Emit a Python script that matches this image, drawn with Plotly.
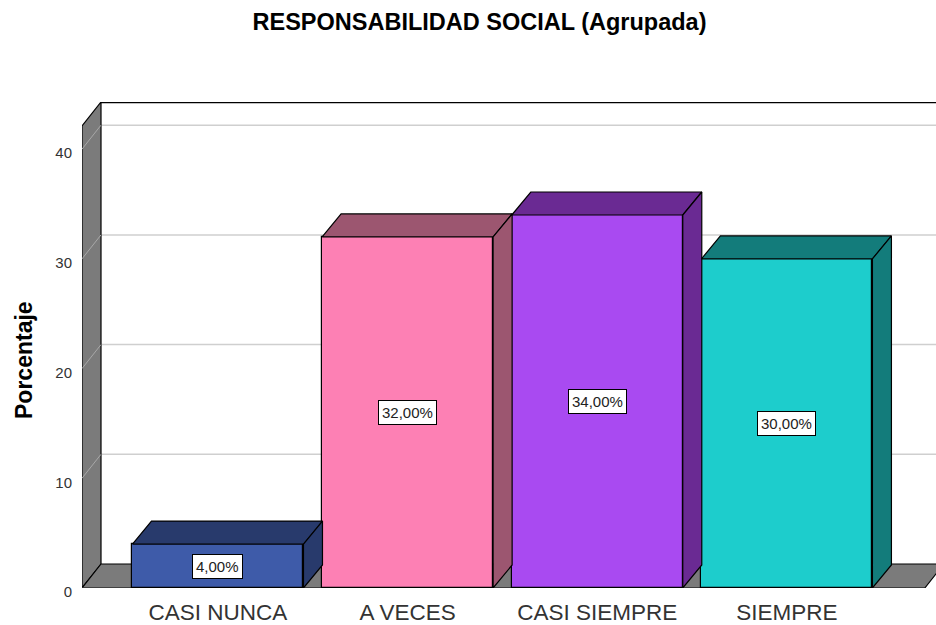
import plotly.graph_objects as go

# ---- data ----
categories = ["CASI NUNCA", "A VECES", "CASI SIEMPRE", "SIEMPRE"]
percentages = [4.0, 32.0, 34.0, 30.0]
y_ticks = [0, 10, 20, 30, 40]
title_text = "RESPONSABILIDAD SOCIAL (Agrupada)"
y_title = "Porcentaje"

# ---- style ----
front_colors = ["#3e5ba9", "#fd80b4", "#a94af1", "#1dcdcc"]
shade_colors = ["#283a6c", "#9c5670", "#6a2a93", "#137c7b"]
wall_color = "#7b7b7b"
grid_color = "#cfcfcf"
FONT = "Arial, Liberation Sans, sans-serif"

W, H = 936, 625
ML, MR, MT, MB = 82, 0, 102, 37
X_RANGE = [-0.717, 3.786]
Y_RANGE = [0, 44.3]
px_x = (W - ML - MR) / (X_RANGE[1] - X_RANGE[0])
px_y = (H - MT - MB) / (Y_RANGE[1] - Y_RANGE[0])
DX = 19 / px_x            # depth offset in x units
DY_WALL = 24 / px_y       # wall depth in y units
DY_BAR = 23 / px_y        # bar depth in y units
BAR_W = 171 / px_x
X0 = X_RANGE[0]
X_FLOOR_END = 3.727
TOP = Y_RANGE[1]

fig = go.Figure()

shapes = []
# gridlines on back wall
for v in y_ticks[1:]:
    shapes.append(dict(type="line", xref="x", yref="y", layer="below",
                       x0=X0 + DX, x1=X_RANGE[1] + 1, y0=v + DY_WALL, y1=v + DY_WALL,
                       line=dict(color=grid_color, width=1.5)))
# left wall
shapes.append(dict(type="path", xref="x", yref="y", layer="below",
                   path=f"M {X0},0 L {X0},{TOP - DY_WALL} L {X0 + DX},{TOP} L {X0 + DX},{DY_WALL} Z",
                   fillcolor=wall_color, line=dict(color="black", width=1.2)))
for v in y_ticks[1:]:
    shapes.append(dict(type="line", xref="x", yref="y", layer="below",
                       x0=X0, x1=X0 + DX, y0=v, y1=v + DY_WALL,
                       line=dict(color="#a8a8a8", width=1)))
# floor
shapes.append(dict(type="path", xref="x", yref="y", layer="below",
                   path=f"M {X0},0 L {X_FLOOR_END},0 L {X_FLOOR_END + DX},{DY_WALL} L {X0 + DX},{DY_WALL} Z",
                   fillcolor=wall_color, line=dict(color="black", width=1.2)))
shapes.append(dict(type="line", xref="x", yref="y", layer="below",
                   x0=X0, x1=0.1, y0=0, y1=0, line=dict(color="#444", width=1.2)))
# back wall top edge
shapes.append(dict(type="line", xref="x", yref="y", layer="below",
                   x0=X0 + DX, x1=X_RANGE[1] + 1, y0=TOP - 0.05, y1=TOP - 0.05,
                   line=dict(color="black", width=1.5)))

# bars (front faces)
fig.add_trace(go.Bar(
    x=list(range(len(categories))), y=percentages, width=BAR_W,
    marker=dict(color=front_colors, line=dict(color="black", width=1.2)),
    hoverinfo="skip", showlegend=False))

# 3D top and side faces, derived from the data values
for i, v in enumerate(percentages):
    xl, xr = i - BAR_W / 2, i + BAR_W / 2
    fig.add_trace(go.Scatter(
        x=[xl, xr, xr + DX, xl + DX, xl], y=[v, v, v + DY_BAR, v + DY_BAR, v],
        fill="toself", fillcolor=shade_colors[i], mode="lines",
        line=dict(color="black", width=1.2), hoverinfo="skip", showlegend=False))
    fig.add_trace(go.Scatter(
        x=[xr, xr + DX, xr + DX, xr, xr], y=[0, DY_BAR, v + DY_BAR, v, 0],
        fill="toself", fillcolor=shade_colors[i], mode="lines",
        line=dict(color="black", width=1.2), hoverinfo="skip", showlegend=False))

annotations = []
for i, v in enumerate(percentages):
    annotations.append(dict(
        x=i, y=v / 2, xref="x", yref="y", showarrow=False,
        text=f"{v:.2f}%".replace(".", ","),
        font=dict(family=FONT, size=15, color="#222"),
        bgcolor="white", bordercolor="black", borderwidth=1, borderpad=3))
annotations.append(dict(
    x=(24 - ML) / (W - ML - MR), y=(H - MB - 360) / (H - MT - MB),
    xref="paper", yref="paper", xanchor="center", yanchor="middle",
    showarrow=False, textangle=-90,
    text=y_title, font=dict(family=FONT, size=23, color="black", weight="bold")))

fig.update_layout(
    width=W, height=H, autosize=False,
    margin=dict(l=ML, r=MR, t=MT, b=MB),
    paper_bgcolor="white", plot_bgcolor="white",
    title=dict(text=title_text, x=479.5 / W, xref="container", xanchor="center",
               y=1 - 22 / H, yref="container", yanchor="middle",
               font=dict(family=FONT, size=23.5, color="black", weight="bold")),
    xaxis=dict(range=X_RANGE, tickvals=list(range(len(categories))), ticktext=categories,
               showgrid=False, zeroline=False, showline=False, ticks="",
               ticklabelstandoff=8, automargin=False,
               tickfont=dict(family=FONT, size=22.5, color="#333")),
    yaxis=dict(range=Y_RANGE, tickvals=y_ticks, showgrid=False, zeroline=False,
               showline=False, ticks="", ticklabelstandoff=9, ticklabelshift=4,
               automargin=False,
               tickfont=dict(family=FONT, size=15, color="#333")),
    shapes=shapes, annotations=annotations, bargap=0,
)

fig.write_html("out.html", config={"displayModeBar": False},
               post_script="document.body.style.margin='0';document.body.style.overflow='hidden';")
